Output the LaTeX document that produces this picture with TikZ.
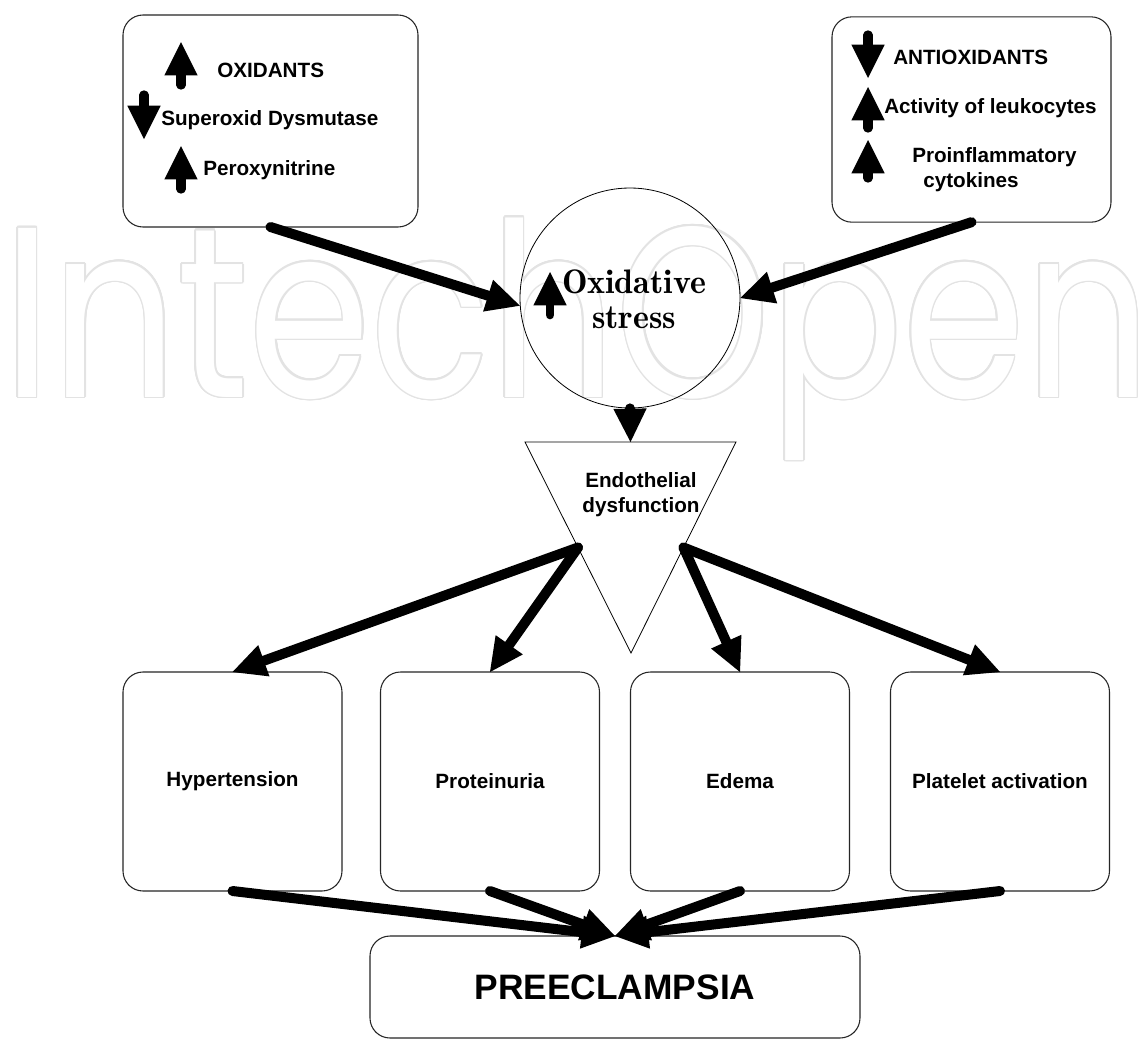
\documentclass[tikz,border=0pt]{standalone}
\usepackage{fontspec}
\newfontfamily\lsans{Liberation Sans}
\newfontfamily\wmfont{Poppins}
\newfontfamily\oxfont{lmromandemi10-regular.otf}
\usetikzlibrary{arrows.meta,calc}
\definecolor{wmgray}{gray}{0.89}
\begin{document}
\begin{tikzpicture}[x=0.75pt,y=-0.75pt,
  box/.style={draw=black!85, line width=0.8pt, rounded corners=15pt, inner sep=0pt, outer sep=0pt},
  lbl/.style={font=\lsans\bfseries\fontsize{15.5}{18.75}\selectfont, inner sep=0pt, align=center},
  biglbl/.style={font=\lsans\bfseries\fontsize{26.5}{30}\selectfont},
  conn/.style={line width=7.5pt, line cap=round, -{Triangle[length=25pt,width=25pt,line width=0pt]}},
  icon/.style={line width=7pt, line cap=round, -{Triangle[length=25pt,width=25pt,line width=0pt]}},
  wm/.style={anchor=base west, inner sep=0pt, font=\wmfont\fontsize{182}{200}\selectfont},
  thin/.style={draw=black, line width=0.6pt}]
\useasboundingbox (0,0) rectangle (1140,1040);
\fill[white] (0,0) rectangle (1140,1040);
% watermark (outlined text)
\coordinate (wmpos) at (3,397);
\foreach \i in {1,...,16}{\node[wm,text=wmgray] (wmc\i) at ($(wmpos)+(\i*22.5:1.2pt)$) {\scalebox{0.81}[1]{IntechOpen}};}
\node[wm,text=white] (wmtext) at (wmpos) {\scalebox{0.81}[1]{IntechOpen}};
% top boxes
\node[box, minimum width=221.25pt, minimum height=159pt] (tl) at (270.5,121) {};
\node[box, minimum width=209.25pt, minimum height=154pt] (tr) at (971.5,119.5) {};
\node[lbl, anchor=west] (oxi) at (217,70) {OXIDANTS};
\node[lbl, anchor=west] (sod) at (161,120) {Superoxid Dysmutase};
\node[lbl, anchor=west] (per) at (203,170) {Peroxynitrine};
\node[lbl, anchor=west] (anti) at (893,57) {ANTIOXIDANTS};
\node[lbl, anchor=west] (act) at (884,108) {Activity of leukocytes};
\node[lbl, anchor=west] (pro) at (912,157) {Proinflammatory};
\node[lbl, anchor=west] (cyt) at (923,182) {cytokines};
\draw[icon] (181,85) -- (181,42);
\draw[icon] (144,95) -- (144,139);
\draw[icon] (181,189) -- (181,146);
\draw[icon] (868,35) -- (868,78);
\draw[icon] (868,128) -- (868,87);
\draw[icon] (868,178) -- (868,140);
% circle
\node[thin, circle, minimum size=165pt, inner sep=0pt] (circ) at (630,298) {};
\node[font=\oxfont\fontsize{25.5}{26.25}\selectfont, align=center, inner sep=0pt] (oxs) at (634,299) {Oxidative\\stress};
\draw[icon, line width=6.5pt] (550,315) -- (550,272);
% triangle
\coordinate (tA) at (525,442);
\coordinate (tB) at (736,442);
\coordinate (tC) at (631,653);
\coordinate (tTop) at ($(tA)!0.5!(tB)$);
\coordinate (tL) at ($(tA)!0.5!(tC)$);
\coordinate (tR) at ($(tB)!0.5!(tC)$);
\draw[thin, line join=miter] (tA) -- (tB) -- (tC) -- cycle;
\node[lbl] (endo) at (641,494.5) {Endothelial\\dysfunction};
% bottom boxes
\node[box, lbl, minimum size=164.25pt] (hyp) at (232.5,781.5) {Hypertension};
\node[box, lbl, minimum size=164.25pt] (prot) at (490,781.5) {Proteinuria};
\node[box, lbl, minimum size=164.25pt] (ede) at (740,781.5) {Edema};
\node[box, lbl, minimum size=164.25pt] (plat) at (1000,781.5) {Platelet activation};
\node[box, biglbl, minimum width=367.5pt, minimum height=76.5pt] (pre) at (615,987) {PREECLAMPSIA};
% connectors
\draw[conn] (tl.south) -- (circ.184);
\draw[conn] (tr.south) -- (circ.east);
\draw[conn] (circ.south) -- (tTop);
\draw[conn] (tL) -- (hyp.north);
\draw[conn] (tL) -- (prot.north);
\draw[conn] (tR) -- (ede.north);
\draw[conn] (tR) -- (plat.north);
\draw[conn] (hyp.south) -- (pre.north);
\draw[conn] (prot.south) -- (pre.north);
\draw[conn] (ede.south) -- (pre.north);
\draw[conn] (plat.south) -- (pre.north);
\end{tikzpicture}
\end{document}
